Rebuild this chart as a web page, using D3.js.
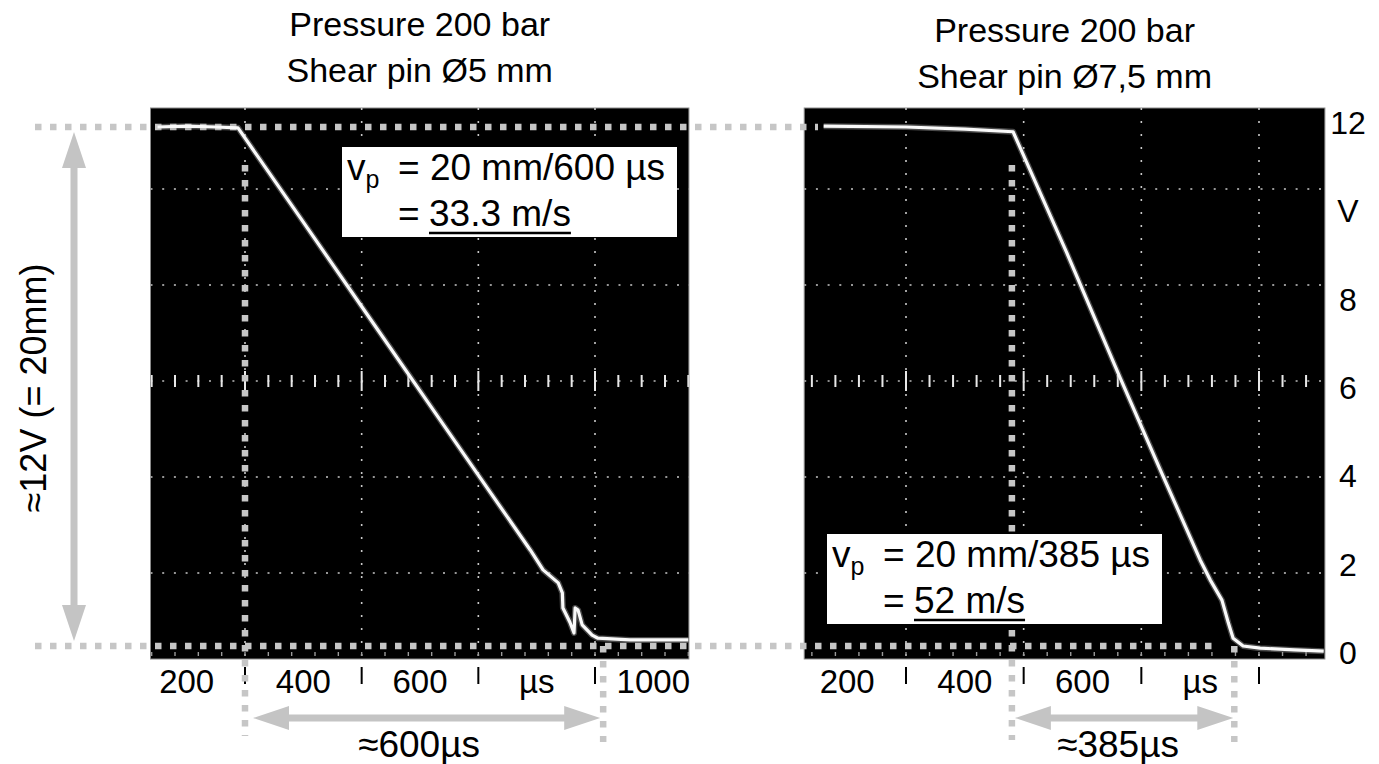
<!DOCTYPE html>
<html lang="en">
<head>
<meta charset="UTF-8">
<title>Shear pin release - piston travel</title>
<script src="https://cdn.jsdelivr.net/npm/d3@7.8.5/dist/d3.min.js"></script>
<style>
  * { margin: 0; padding: 0; box-sizing: border-box; }
  body { background: #fff; width: 1379px; height: 764px; overflow: hidden; }
  svg { display: block; font-family: 'Liberation Sans', Arial, sans-serif; }
  text { fill: #000; }
</style>
</head>
<body>
<svg id="chart" width="1379" height="764"></svg>
<script>
// scope traces: time in µs, signal in V
const leftTime  = [150, 200, 250, 288, 400, 500, 600, 700, 789, 811, 837, 844, 845, 857, 864, 866, 871, 878, 895, 905, 960, 1000, 1060];
const leftVolt  = [12.0, 12.02, 12.0, 11.98, 9.8, 7.85, 5.9, 3.95, 2.22, 1.76, 1.46, 1.23, 0.88, 0.55, 0.30, 0.88, 0.83, 0.49, 0.25, 0.18, 0.14, 0.14, 0.14];
const rightTime = [160, 300, 400, 482, 573, 664, 732, 800, 817, 837, 848, 856, 873, 902, 960, 1010];
const rightVolt = [12.02, 12.0, 11.95, 11.89, 9.1, 6.2, 4.08, 1.99, 1.53, 1.06, 0.53, 0.18, 0.0, -0.05, -0.09, -0.12];

// axis ticks and labels
const tickTimes   = [300, 500, 700, 900];
const labelTimes  = [200, 400, 600, 800, 1000];
const leftLabels  = ["200", "400", "600", "µs", "1000"];
const rightLabels = ["200", "400", "600", "µs"];
const voltValues  = [0, 2, 4, 6, 8, 10, 12];
const voltLabels  = ["0", "2", "4", "6", "8", "V", "12"];

// travel time markers (µs) and texts
const leftTravel  = [300, 914];
const rightTravel = [480, 858];
const travelText  = ["≈600µs", "≈385µs"];
const titles = [["Pressure 200 bar", "Shear pin Ø5 mm"], ["Pressure 200 bar", "Shear pin Ø7,5 mm"]];
const speedText = [["20 mm/600 µs", "33.3 m/s"], ["20 mm/385 µs", "52 m/s"]];

const svg = d3.select('#chart');
const screenTop = 108, screenBottom = 659;

const xL = d3.scaleLinear().domain([300, 900]).range([245, 595]);
const xR = d3.scaleLinear().domain([300, 900]).range([906, 1259]);
const y  = d3.scaleLinear().domain([0, 12]).range([646, 127]);
const yLab = d3.scaleLinear().domain([0, 12]).range([653, 123]);
// scope graticule in divisions
const gy = d3.scaleLinear().domain([-2, 2]).range([573, 189]);

const dotted = '#c6c6c6';

function drawPanel(id, x, view, time) {
    const g = svg.append('g');
    const x0 = x(view[0]), x1 = x(view[1]);

    g.append('clipPath').attr('id', 'clip' + id)
        .append('rect').attr('x', x0).attr('y', screenTop).attr('width', x1 - x0).attr('height', screenBottom - screenTop);

    g.append('rect')
        .attr('x', x0).attr('y', screenTop).attr('width', x1 - x0).attr('height', screenBottom - screenTop)
        .attr('fill', '#000').attr('stroke', '#8a8a8a').attr('stroke-width', 1);

    const gr = g.append('g').attr('clip-path', `url(#clip${id})`);

    // vertical graticule lines every 200 µs
    const vlines = d3.range(100, 1200, 200).filter(t => t > view[0] && t < view[1]);
    gr.selectAll('.vg').data(vlines).enter().append('line')
        .attr('x1', d => x(d)).attr('x2', d => x(d))
        .attr('y1', screenTop).attr('y2', screenBottom)
        .attr('stroke', '#c8c8c8').attr('stroke-width', 1.6)
        .attr('stroke-dasharray', '2 11');

    // horizontal graticule lines
    gr.selectAll('.hg').data([-2, -1, 1, 2]).enter().append('line')
        .attr('x1', x0).attr('x2', x1)
        .attr('y1', d => gy(d)).attr('y2', d => gy(d))
        .attr('stroke', '#c8c8c8').attr('stroke-width', 1.6)
        .attr('stroke-dasharray', '2 9.7');

    // centre line with minor ticks
    const minors = d3.range(-100, 1200, 40).filter(t => t > view[0] && t < view[1]);
    gr.append('line')
        .attr('x1', x0).attr('x2', x1).attr('y1', gy(0)).attr('y2', gy(0))
        .attr('stroke', '#bbb').attr('stroke-width', 1.6).attr('stroke-dasharray', '2 9.7');
    gr.selectAll('.mt').data(minors).enter().append('line')
        .attr('x1', d => x(d)).attr('x2', d => x(d))
        .attr('y1', d => gy(0) - ((d - 100) % 200 === 0 ? 10 : 6))
        .attr('y2', d => gy(0) + ((d - 100) % 200 === 0 ? 10 : 6))
        .attr('stroke', '#e8e8e8').attr('stroke-width', 2);
    // small marks on the bottom edge
    gr.selectAll('.bt').data(minors).enter().append('line')
        .attr('x1', d => x(d)).attr('x2', d => x(d))
        .attr('y1', screenBottom - 7).attr('y2', screenBottom - 3)
        .attr('stroke', '#999').attr('stroke-width', 1.4);

    // ticks under the screen
    g.selectAll('.xt').data(tickTimes).enter().append('line')
        .attr('x1', d => x(d)).attr('x2', d => x(d))
        .attr('y1', 667).attr('y2', 684)
        .attr('stroke', '#000').attr('stroke-width', 2);

    return { line: d3.line().x((d, i) => x(time[i])).y(d => y(d)) };
}

function drawTrace(p, layer, volt) {
    layer.append('path').datum(volt)
        .attr('d', p.line).attr('fill', 'none')
        .attr('stroke', '#a0a0a0').attr('stroke-width', 6).attr('stroke-opacity', 0.45)
        .attr('stroke-linejoin', 'round');
    layer.append('path').datum(volt)
        .attr('d', p.line).attr('fill', 'none')
        .attr('stroke', '#fafafa').attr('stroke-width', 3.2)
        .attr('stroke-linejoin', 'round');
}

function dottedLine(x1, y1, x2, y2) {
    svg.append('line')
        .attr('x1', x1).attr('y1', y1).attr('x2', x2).attr('y2', y2)
        .attr('stroke', dotted).attr('stroke-width', 6.5)
        .attr('stroke-dasharray', '6.5 8.5');
}

function arrow(x1, y1, x2, y2) {
    const a = Math.atan2(y2 - y1, x2 - x1), L = 36, W = 12;
    const c = Math.cos(a), s = Math.sin(a);
    svg.append('line')
        .attr('x1', x1 + L * c * 0.9).attr('y1', y1 + L * s * 0.9)
        .attr('x2', x2 - L * c * 0.9).attr('y2', y2 - L * s * 0.9)
        .attr('stroke', '#c4c4c4').attr('stroke-width', 7);
    [[x2, y2, 1], [x1, y1, -1]].forEach(([tx, ty, dir]) => {
        const bx = tx - dir * L * c, by = ty - dir * L * s;
        svg.append('path')
            .attr('d', `M${tx},${ty}L${bx - W * s},${by + W * c}L${bx + W * s},${by - W * c}Z`)
            .attr('fill', '#c4c4c4');
    });
}

const leftView = [138, 1061], rightView = [127, 1012];
const pL = drawPanel('L', xL, leftView, leftTime);
const pR = drawPanel('R', xR, rightView, rightTime);

// reference levels and travel markers
dottedLine(35, y(12), 818, y(12));
dottedLine(35, y(0), 1215, y(0));
dottedLine(xL(leftTravel[0]), 165, xL(leftTravel[0]), 736);
dottedLine(xL(leftTravel[1]), y(0), xL(leftTravel[1]), 742);
dottedLine(xR(rightTravel[0]), 165, xR(rightTravel[0]), 740);
dottedLine(xR(rightTravel[1]), y(0), xR(rightTravel[1]), 742);

// traces on top of the markers, clipped to the screens
const layerL = svg.append('g').attr('clip-path', 'url(#clipL)');
const layerR = svg.append('g').attr('clip-path', 'url(#clipR)');
drawTrace(pL, layerL, leftVolt);
drawTrace(pR, layerR, rightVolt);

// x labels
svg.selectAll('.xlL').data(leftLabels).enter().append('text')
    .attr('x', (d, i) => xL(labelTimes[i])).attr('y', 693)
    .attr('text-anchor', 'middle').style('font-size', '33px').text(d => d);
svg.selectAll('.xlR').data(rightLabels).enter().append('text')
    .attr('x', (d, i) => xR(labelTimes[i])).attr('y', 693)
    .attr('text-anchor', 'middle').style('font-size', '33px').text(d => d);

// y labels right of the second screen
svg.selectAll('.yl').data(voltLabels).enter().append('text')
    .attr('x', 1348).attr('y', (d, i) => yLab(voltValues[i]))
    .attr('text-anchor', 'middle').attr('dominant-baseline', 'central')
    .style('font-size', '32px').text(d => d);

// titles
[[xL, leftView, 36], [xR, rightView, 42]].forEach(([x, v, b], k) => {
    const cx = (x(v[0]) + x(v[1])) / 2;
    titles[k].forEach((t, j) => {
        svg.append('text').attr('x', cx).attr('y', b + j * 46)
            .attr('text-anchor', 'middle').style('font-size', '34px').text(t);
    });
});

// speed boxes
function speedBox(bx, by, k) {
    svg.append('rect').attr('x', bx).attr('y', by).attr('width', 335).attr('height', 90).attr('fill', '#fff');
    const t1 = svg.append('text').attr('x', bx + 5).attr('y', by + 33).style('font-size', '37px');
    t1.append('tspan').text('v');
    t1.append('tspan').attr('dy', 8).style('font-size', '25px').text('p');
    svg.append('text').attr('x', bx + 56).attr('y', by + 33).style('font-size', '37px')
        .text('= ' + speedText[k][0]);
    svg.append('text').attr('x', bx + 56).attr('y', by + 79).style('font-size', '37px').text('=');
    const u = svg.append('text').attr('x', bx + 87).attr('y', by + 79).style('font-size', '37px')
        .text(speedText[k][1]);
    const bb = u.node().getBBox();
    svg.append('line').attr('x1', bb.x).attr('x2', bb.x + bb.width)
        .attr('y1', by + 86).attr('y2', by + 86)
        .attr('stroke', '#000').attr('stroke-width', 2.5);
}
speedBox(342, 147, 0);
speedBox(827, 534, 1);

// arrows
arrow(74, y(0) - 5, 74, y(12) + 5);
arrow(xL(leftTravel[0]) + 8, 718, xL(leftTravel[1]) - 3, 718);
arrow(xR(rightTravel[0]) + 3, 718, xR(rightTravel[1]) - 1, 718);

svg.append('text').attr('transform', 'translate(33,388) rotate(-90)')
    .attr('text-anchor', 'middle').attr('dominant-baseline', 'central')
    .style('font-size', '36px').text('≈12V (= 20mm)');

svg.append('text').attr('x', (xL(leftTravel[0]) + xL(leftTravel[1])) / 2 - 5).attr('y', 757)
    .attr('text-anchor', 'middle').style('font-size', '37px').text(travelText[0]);
svg.append('text').attr('x', (xR(rightTravel[0]) + xR(rightTravel[1])) / 2 - 5).attr('y', 757)
    .attr('text-anchor', 'middle').style('font-size', '37px').text(travelText[1]);
</script>
</body>
</html>
